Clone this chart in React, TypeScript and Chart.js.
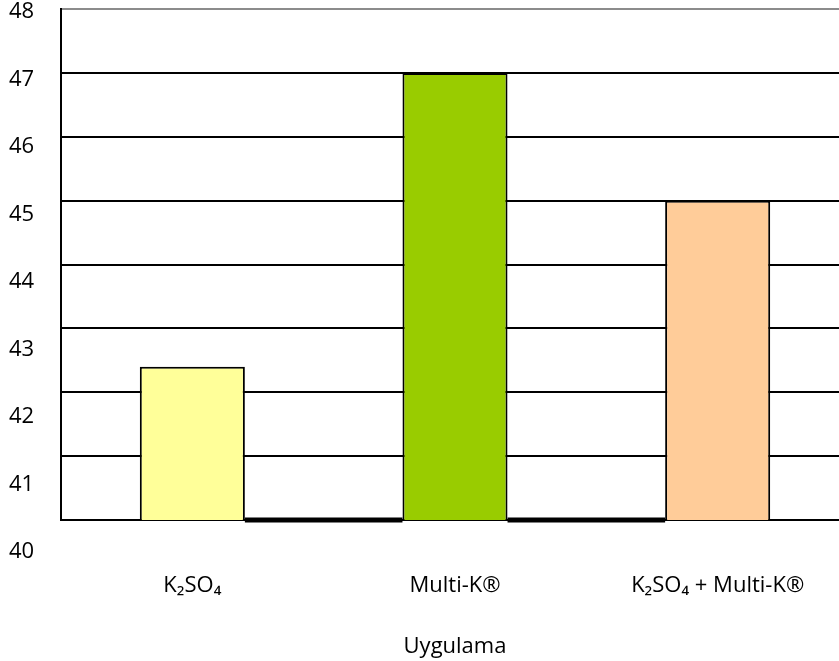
import { useEffect, useRef } from "react";
import { Chart, registerables } from "chart.js";

Chart.register(...registerables);

// Treatments and their measured values
const categories = ["K₂SO₄", "Multi-K®", "K₂SO₄ + Multi-K®"];
const values = [42.4, 47, 45];
const barColors = ["#FFFF99", "#99CC00", "#FFCC99"];

// Value axis
const yMin = 40;
const yMax = 48;
const yTickLabels = [40, 41, 42, 43, 44, 45, 46, 47, 48];
// range of the axis that carries the printed tick numbers
const labelAxisMin = 40.474;
const labelAxisMax = 48.044;

const axisTitle = "Uygulama";

const FONT = "'Open Sans', 'DejaVu Sans', sans-serif";
const BAR_SHARE = 0.4;

// thick baseline pieces running between neighbouring bars
function separatorPoints() {
  const pts: { x: number; y: number | null }[] = [];
  for (let i = 0; i < categories.length - 1; i++) {
    pts.push({ x: i + 0.5 + BAR_SHARE / 2, y: yMin });
    pts.push({ x: i + 1.5 - BAR_SHARE / 2, y: yMin });
    pts.push({ x: i + 1.5, y: null });
  }
  return pts;
}

export default function App() {
  const canvasRef = useRef<HTMLCanvasElement | null>(null);

  useEffect(() => {
    const canvas = canvasRef.current;
    if (!canvas) return;
    const font = { family: FONT, size: 22 };

    const chart = new Chart(canvas, {
      data: {
        labels: categories,
        datasets: [
          {
            type: "bar",
            data: values,
            xAxisID: "x",
            yAxisID: "y",
            grouped: false,
            backgroundColor: barColors,
            borderColor: "#000000",
            borderWidth: 2,
            borderSkipped: false,
            barPercentage: BAR_SHARE,
            categoryPercentage: 1,
            order: 0,
          },
          {
            type: "line",
            data: separatorPoints() as any,
            xAxisID: "xs",
            yAxisID: "y",
            borderColor: "#000000",
            borderWidth: 5,
            borderCapStyle: "butt",
            pointRadius: 0,
            spanGaps: false,
            clip: false as any,
            order: 1,
          },
        ],
      },
      options: {
        responsive: false,
        maintainAspectRatio: false,
        animation: false,
        layout: { padding: { left: 9, top: 9, right: 0, bottom: 0 } },
        plugins: {
          legend: { display: false },
          tooltip: { enabled: false },
        },
        scales: {
          x: {
            type: "category",
            offset: true,
            grid: { display: false, drawTicks: false },
            border: { display: true, color: "#000000", width: 2 },
            ticks: {
              color: "#000000",
              font,
              padding: 53,
              maxRotation: 0,
              autoSkip: false,
            },
            title: {
              display: true,
              text: axisTitle,
              color: "#000000",
              font,
              padding: { top: 30, bottom: 1 },
            },
            afterFit: (scale: any) => {
              scale.height = 141;
              scale.paddingLeft = 0;
              scale.paddingRight = 0;
            },
          },
          xs: {
            type: "linear",
            display: false,
            min: 0,
            max: categories.length,
          },
          y: {
            type: "linear",
            position: "left",
            weight: 0,
            min: yMin,
            max: yMax,
            ticks: { display: false, stepSize: 1 },
            grid: {
              drawTicks: false,
              lineWidth: 2,
              color: (ctx: any) =>
                ctx.tick && ctx.tick.value === yMax ? "#8C8C8C" : "#000000",
            },
            border: { display: true, color: "#000000", width: 2 },
          },
          yl: {
            type: "linear",
            position: "left",
            weight: 1,
            min: labelAxisMin,
            max: labelAxisMax,
            afterBuildTicks: (scale: any) => {
              scale.ticks = yTickLabels.map((v) => ({ value: v }));
            },
            afterFit: (scale: any) => {
              scale.width = 52;
              scale.paddingTop = 0;
              scale.paddingBottom = 0;
            },
            grid: { display: false, drawTicks: false },
            border: { display: false },
            ticks: {
              crossAlign: "far",
              padding: 0,
              color: "#000000",
              font,
              autoSkip: false,
            },
          },
        },
      } as any,
    });

    return () => chart.destroy();
  }, []);

  return (
    <div
      style={{
        position: "fixed",
        left: 0,
        top: 0,
        width: 839,
        height: 661,
        overflow: "hidden",
        background: "#ffffff",
      }}
    >
      <canvas ref={canvasRef} width={849} height={661} style={{ display: "block" }} />
    </div>
  );
}
